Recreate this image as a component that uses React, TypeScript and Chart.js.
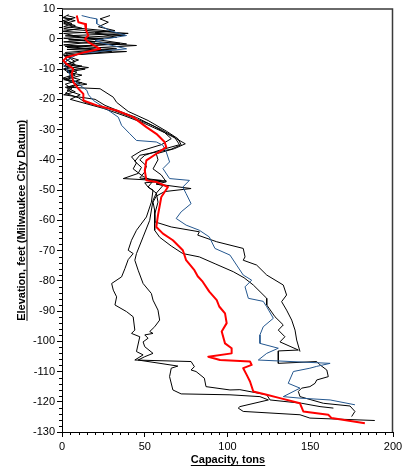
import React, { useEffect, useRef } from "react";
import { Chart, registerables } from "chart.js";

Chart.register(...registerables);

type P = [number, number]; // [capacity (tons), elevation (ft)]

const xTickValues = [0, 50, 100, 150, 200];
const yTickValues = [10, 0, -10, -20, -30, -40, -50, -60, -70, -80, -90, -100, -110, -120, -130];
const xTitle = "Capacity, tons";
const yTitle = "Elevation, feet (Milwaukee City Datum)";

const averageRed: P[] = [
  [8.9, 7.7], [9.9, 5.5], [13.9, 4.9], [14.5, 3], [15.9, 1.1], [13.9, 0], [15.9, -1.1], [23, -3.3], [13.9, -4.4],
  [2.8, -6.1], [0.8, -7.2], [2.8, -8.3], [6.8, -9.9], [5.9, -11.6], [6.8, -14.3], [9.9, -16.5], [12.9, -18.2],
  [12.9, -20.4], [21, -22], [33, -23.7], [43, -25.9], [51, -29.2], [57, -31.4], [62, -34.1], [63, -35.8], [57, -38],
  [51, -40.2], [50, -43.5], [51, -46.8], [57, -47.3], [64, -49], [60, -52.3], [58, -58.3], [57, -62.2], [61, -64.4],
  [67, -66.6], [73, -69.9], [74, -71.5], [75, -73.2], [80, -76.5], [82, -78.5], [85, -80.3], [89, -83.6], [93.5, -86.4],
  [95, -88.5], [98.5, -90.8], [99.5, -94], [96.5, -96.8], [98.5, -100.7], [102.5, -102.3], [102.5, -104], [88.4, -105.1],
  [95.5, -106.2], [113.6, -106.7], [114.6, -107.8], [109.5, -108.9], [111.6, -111.1], [113.6, -113.3], [115.6, -116.6],
  [123.7, -117.7], [131.7, -118.8], [143.8, -120.5], [145.8, -123.2], [160.9, -124.3], [162.9, -125.4], [183, -127.1],
];

const boringBlue: P[] = [
  [11.9, 7.7], [17, 7], [21, 6.6], [21, 5], [23, 4.4], [29, 2.7], [39, 1.1], [30, 0.3], [20, -0.5], [25, -1.5],
  [39, -3.3], [25, -4], [10, -5], [3, -7], [1, -8.5], [3, -9.9], [4, -11], [5.9, -13.2], [10, -15], [15, -17],
  [16, -18.5], [19, -20.4], [25, -22.5], [34, -25.9], [36, -28.6], [41, -31.4], [45, -33.6], [57, -34.1], [61, -35.2],
  [63, -37.4], [65, -40.7], [61, -42.9], [65, -46.2], [77, -46.8], [73, -49], [75, -51.2], [78, -54.5], [72, -57.2],
  [69, -59.4], [75, -61.6], [83, -63.3], [89, -65.5], [92.4, -69.3], [101.5, -71.5], [105.5, -74.8], [109.5, -78.1],
  [114.6, -79.8], [110.6, -82], [112.6, -85.8], [121.6, -86.8], [123.7, -88.6], [127.7, -92.4], [121.6, -95.2],
  [119.6, -97.9], [119.6, -100.7], [130.7, -102.3], [123.7, -104], [118.6, -106.2], [162, -107.3], [153.9, -108.3],
  [149.8, -108.9], [139.8, -110], [136.7, -113.9], [143.8, -115.5], [133.7, -118.3], [143.8, -118.8], [162, -119.4],
  [177, -121],
];

const boringK1: P[] = [
  [29, 7.7], [23, 6.6], [28, 5.5], [22, 4], [32, 2.7], [20, 2], [33, 0.5], [4, -0.3], [35, -1.5], [3, -2.8],
  [30, -4.2], [2, -5.5], [8, -7.5], [1, -9], [14, -10], [3, -11], [12, -12], [2, -13.5], [9, -15], [3, -17],
  [11, -18.5], [5, -20], [15, -21.5], [25, -23], [38, -25.5], [50, -28], [62, -31], [69, -33], [74.5, -34.7],
  [68, -36.3], [57, -38], [58, -40], [55, -43], [60, -45], [63, -47.3], [57, -48], [78, -49.5], [62, -50.5],
  [57, -52], [55, -54], [56, -56.7], [56, -60.5], [66, -62.2], [83, -63.8], [82, -64.9], [93.5, -67.1], [109.5, -69.3],
  [110.6, -72.1], [109.5, -73.2], [117.6, -74.8], [123.7, -78.1], [133.7, -81.4], [135.7, -84.7], [132.7, -86.9],
  [135.7, -89.7], [138.8, -93], [140.8, -96.3], [141.8, -99.6], [143.8, -103.4],
];

const boringK2: P[] = [
  [1, 7.1], [6, 6.5], [1, 5.5], [8, 4.4], [1, 3.3], [40, 1.8], [2, 1], [25, 0], [1, -1], [45, -2.2], [3, -3.5],
  [39, -4.2], [1, -5.5], [10, -7], [2, -8.5], [16, -9.5], [3, -10.5], [8, -12], [1, -13.5], [12, -14.5], [3, -16],
  [23, -16.5], [31, -19.3], [33, -21], [40, -24], [52, -27], [63, -30.5], [70, -33], [72, -35], [66, -36.5],
  [47, -38.5], [44, -40.5], [48, -42.5], [46, -44.5], [37, -46.2], [63, -47], [50, -47.6], [52, -49], [57, -51],
  [58, -54], [56, -58], [56, -63.3], [59, -65.6], [66, -68.5], [73, -71], [83, -72.1], [93, -74.5], [103.5, -77],
  [110, -79], [115.6, -81.4], [123.7, -85.8], [123.7, -88], [128.7, -91.9], [133.7, -94.6], [130.7, -96.3],
  [134.7, -98.5], [131.7, -100.2], [142.8, -102.9], [130.7, -103.2], [130.7, -107.3], [153.9, -106.7],
  [155.9, -107.8], [160, -109.5], [160.9, -111.7], [153.9, -112.8], [152.9, -113.9], [149.8, -115], [144.8, -115.5],
  [142.8, -116.6], [143.8, -118.3], [157.9, -120.5], [174, -121.4], [177, -123.2], [175, -124.9],
];

const boringL1: P[] = [
  [4, 8], [0.5, 7], [8, 6], [1, 5], [12, 3.5], [0.5, 2.5], [38, 1.2], [1, 0.2], [20, -1], [1, -2], [33, -3.3],
  [2, -4.5], [5, -6.5], [1, -8], [12, -9], [1, -10], [6, -12], [0.5, -13], [15, -15], [2, -16], [8, -17.5],
  [1, -18.5], [20, -20], [26, -22], [35, -24], [45, -26], [56, -29], [62, -31], [66, -33], [60, -35], [48, -37],
  [42, -39], [45, -41], [43, -43], [49, -45.5], [55, -47], [52, -49], [55, -50], [54, -54], [51, -58.9], [45, -63.3],
  [42, -66.6], [40, -69.9], [43, -71], [40, -73], [38, -76], [36, -78.7], [30, -80.9], [31, -83.1], [33, -85.3],
  [32, -88], [39, -90.2], [43, -91.9], [44, -96.3], [42, -97.4], [47, -98.5], [45, -103.4], [49, -104.5], [44, -106.2],
  [78, -106.7], [80, -108.4], [78, -109.5], [81, -110], [86, -112.2], [87, -115], [101.5, -116.1], [107.5, -116],
  [123.7, -117.7], [125.7, -119.4], [144.8, -120.5], [155.9, -121.6], [164, -122.1],
];

const boringL2: P[] = [
  [3, 7.7], [8, 7], [0.5, 6], [6, 5], [1, 4], [30, 2.5], [1, 1.8], [12, 0.5], [39, -1.7], [2, -2.5], [28, -3.8],
  [1, -5], [3, -7], [8, -8.5], [1, -10], [9, -11], [4, -12.5], [11, -13.5], [2, -15], [6, -16.5], [2, -18],
  [10, -19.5], [14, -21], [28, -23], [40, -25.5], [52, -28], [60, -30], [68, -32.5], [71, -35], [58, -37],
  [50, -38.5], [47, -40], [51, -42], [50, -44], [47, -46], [60, -46.8], [57, -48], [61, -48.5], [57, -51],
  [55, -53.4], [53, -60], [49, -65.5], [45, -71], [44, -73.2], [46, -76.5], [49, -80.9], [54, -84.2], [55, -86.4],
  [58, -89.7], [59, -93], [56, -95.2], [53, -96.8], [55, -97.4], [50, -97.9], [52, -99], [49, -100.2], [50, -101.8],
  [55, -104], [50, -105.1], [46, -106.2], [70, -108.2], [66, -108.9], [65, -111.7], [67, -116.1], [72, -117.4],
  [101.5, -117.7], [119.6, -118.3], [124.7, -119.4], [107.5, -121.6], [106.5, -122.1], [109.5, -123.2],
  [143.8, -124.3], [149.8, -125.4], [189, -126.2],
];

const FONT = "'Liberation Sans', Arial, Helvetica, sans-serif";

const framePlugin = {
  id: "frameAndTitles",
  afterDraw(chart: any) {
    const { ctx, chartArea: a, scales } = chart;
    ctx.save();
    // top and right frame
    ctx.strokeStyle = "#3a3a3a";
    ctx.lineWidth = 1.5;
    ctx.beginPath();
    ctx.moveTo(a.left, a.top + 0.5);
    ctx.lineTo(a.right - 0.5, a.top + 0.5);
    ctx.lineTo(a.right - 0.5, a.bottom);
    ctx.stroke();
    // minor ticks
    ctx.strokeStyle = "#000";
    ctx.lineWidth = 1;
    ctx.beginPath();
    for (let v = -130; v <= 10; v += 2) {
      if (v % 10 === 0) continue;
      const py = Math.round(scales.y.getPixelForValue(v)) + 0.5;
      ctx.moveTo(a.left - 3, py);
      ctx.lineTo(a.left, py);
    }
    for (let v = 0; v <= 200; v += 5) {
      if (v % 50 === 0) continue;
      const px = Math.round(scales.x.getPixelForValue(v)) + 0.5;
      ctx.moveTo(px, a.bottom);
      ctx.lineTo(px, a.bottom + 3);
    }
    ctx.stroke();
    // titles
    ctx.fillStyle = "#000";
    ctx.font = `bold 11px ${FONT}`;
    ctx.textAlign = "center";
    ctx.textBaseline = "alphabetic";
    const cx = (a.left + a.right) / 2 + 0.5;
    ctx.fillText(xTitle, cx, 463);
    const wx = ctx.measureText(xTitle).width;
    ctx.fillRect(cx - wx / 2, 465, wx, 1);
    const cy = (a.top + a.bottom) / 2;
    ctx.save();
    ctx.translate(24.5, cy);
    ctx.rotate(-Math.PI / 2);
    ctx.fillText(yTitle, 0, 0);
    const wy = ctx.measureText(yTitle).width;
    ctx.fillRect(-wy / 2, 2, wy, 1);
    ctx.restore();
    ctx.restore();
  },
};

function series(pts: P[], color: string, width: number) {
  return {
    data: pts.map(([x, y]) => ({ x, y })),
    borderColor: color,
    backgroundColor: color,
    borderWidth: width,
    pointRadius: 0,
    showLine: true,
    fill: false,
    tension: 0,
    borderJoinStyle: "round" as const,
  };
}

export default function App() {
  const ref = useRef<HTMLCanvasElement | null>(null);
  useEffect(() => {
    document.body.style.margin = "0";
    const canvas = ref.current;
    if (!canvas) return;
    const tickFont = { family: FONT, size: 11 };
    const chart = new Chart(canvas, {
      type: "scatter",
      data: {
        datasets: [
          series(averageRed, "#ff0000", 2),
          series(boringBlue, "#24578f", 1),
          series(boringK1, "#000000", 1),
          series(boringK2, "#000000", 1),
          series(boringL1, "#000000", 1),
          series(boringL2, "#000000", 1),
        ],
      },
      options: {
        animation: false,
        responsive: false,
        devicePixelRatio: 1,
        layout: { padding: { left: 0, right: 21, top: 8, bottom: 0 } },
        plugins: { legend: { display: false }, tooltip: { enabled: false } },
        scales: {
          x: {
            type: "linear",
            position: "bottom",
            min: 0,
            max: 200,
            afterBuildTicks: (s: any) => { s.ticks = xTickValues.map((v) => ({ value: v })); },
            ticks: { font: tickFont, color: "#000", padding: 3, maxRotation: 0, autoSkip: false },
            grid: { drawOnChartArea: false, drawTicks: true, tickLength: 5, color: "#000", tickColor: "#000" },
            border: { display: true, color: "#000", width: 1 },
            afterFit: (s: any) => { s.height = 38; },
          },
          y: {
            type: "linear",
            min: -130,
            max: 10,
            afterBuildTicks: (s: any) => { s.ticks = yTickValues.map((v) => ({ value: v })); },
            ticks: { font: tickFont, color: "#000", padding: 2, autoSkip: false },
            grid: { drawOnChartArea: false, drawTicks: true, tickLength: 5, color: "#000", tickColor: "#000" },
            border: { display: true, color: "#000", width: 1 },
            afterFit: (s: any) => { s.width = 62; },
          },
        },
      },
      plugins: [framePlugin],
    } as any);
    return () => chart.destroy();
  }, []);
  return <canvas ref={ref} width={414} height={470} style={{ display: "block" }} />;
}
